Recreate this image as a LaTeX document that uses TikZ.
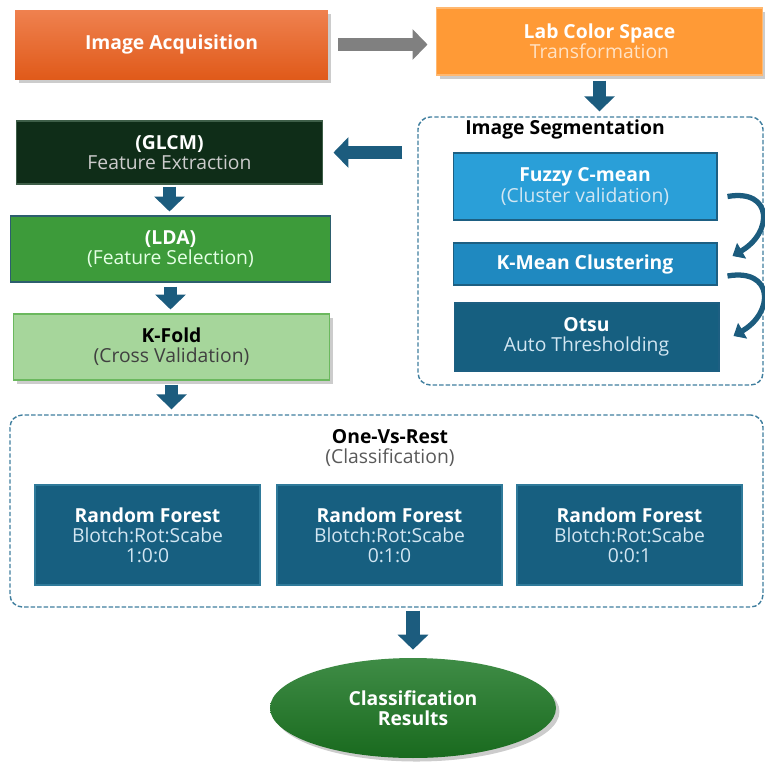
\documentclass[tikz,border=0pt]{standalone}
\usepackage{fontspec}
\setmainfont{Open Sans}
\usepackage{tikz}
\usetikzlibrary{arrows.meta,calc,fit,shapes.geometric,shadows}

\definecolor{acqtop}{HTML}{EF814F}
\definecolor{acqbot}{HTML}{E05A1A}
\definecolor{labfill}{HTML}{FF9A36}
\definecolor{labline}{HTML}{FFB870}
\definecolor{labsub}{HTML}{FFE2C4}
\definecolor{grpline}{HTML}{3F7E9E}
\definecolor{fuzzyfill}{HTML}{2A9FD8}
\definecolor{kmeanfill}{HTML}{1F89C0}
\definecolor{otsufill}{HTML}{165F80}
\definecolor{blueline}{HTML}{1D5F82}
\definecolor{bluesub}{HTML}{D2E6F2}
\definecolor{glcmfill}{HTML}{0F2D18}
\definecolor{glcmline}{HTML}{3E5E48}
\definecolor{ldafill}{HTML}{3D9B3A}
\definecolor{ldaline}{HTML}{2D5E6E}
\definecolor{kfoldfill}{HTML}{A6D69B}
\definecolor{kfoldline}{HTML}{6BB85E}
\definecolor{rffill}{HTML}{175F80}
\definecolor{rfline}{HTML}{2F7A9A}
\definecolor{restop}{HTML}{3F8C46}
\definecolor{resbot}{HTML}{196A1E}
\definecolor{arrowblue}{HTML}{1C5C7E}
\definecolor{arrowgray}{HTML}{808080}

\begin{document}
\begin{tikzpicture}[x=0.02cm,y=-0.02cm,
  font=\fontsize{11}{11.5}\selectfont,
  box/.style={rectangle,inner sep=0pt,align=center,text=white,line width=0.6pt},
  shade/.style={drop shadow={shadow xshift=2pt,shadow yshift=-2pt,opacity=0.4}},
  group/.style={draw=grpline,rounded corners=7pt,line width=0.8pt,dash pattern=on 2.5pt off 1.2pt,inner sep=0pt},
  fat/.style={-{Triangle[width=17pt,length=8.5pt]},line width=7.5pt,draw=arrowblue},
  curv/.style={-{Triangle[width=10pt,length=6pt]},line width=3pt,draw=arrowblue,looseness=2},
]
\useasboundingbox (0,0) rectangle (765,762);

\node[box,shade,top color=acqtop,bottom color=acqbot,minimum width=6.26cm,minimum height=1.38cm] (acq) at (171.5,44.5) {\textbf{Image Acquisition}};
\node[box,shade,fill=labfill,draw=labline,minimum width=6.54cm,minimum height=1.34cm] (lab) at (599.5,41.5) {\textbf{Lab Color Space}\\ {\color{labsub}Transformation}};

\node[group,fit={(418,117)(763,385)}] (seg) {};
\node[font=\fontsize{11}{11.5}\selectfont\bfseries] (seglabel) at (565,129) {Image Segmentation};
\node[box,fill=fuzzyfill,draw=blueline,minimum width=5.28cm,minimum height=1.34cm] (fuzzy) at (585,186.5) {\textbf{Fuzzy C-mean}\\ {\color{bluesub}(Cluster validation)}};
\node[box,fill=kmeanfill,draw=blueline,minimum width=5.28cm,minimum height=0.84cm] (kmean) at (585,264) {\textbf{K-Mean Clustering}};
\node[box,fill=otsufill,draw=blueline,minimum width=5.3cm,minimum height=1.36cm] (otsu) at (586.5,337) {\textbf{Otsu}\\ {\color{bluesub}Auto Thresholding}};

\node[box,fill=glcmfill,draw=glcmline,minimum width=6.14cm,minimum height=1.26cm] (glcm) at (169.5,152.5) {\textbf{(GLCM)}\\ {\color{black!20}Feature Extraction}};
\node[box,fill=ldafill,draw=ldaline,minimum width=6.42cm,minimum height=1.32cm] (lda) at (170.5,249) {\textbf{(LDA)}\\ {\color{green!10}(Feature Selection)}};
\node[box,shade,fill=kfoldfill,draw=kfoldline,text=black,minimum width=6.34cm,minimum height=1.32cm] (kfold) at (171.5,347) {\textbf{K-Fold}\\ {\color{black!75}(Cross Validation)}};

\node[group,fit={(10,415)(763,607)}] (class) {};
\node[align=center] (ovr) at (390,448) {\textbf{One-Vs-Rest}\\ {\color{black!65}(Classification)}};
\node[box,fill=rffill,draw=rfline,minimum width=4.5cm,minimum height=2cm] (rf1) at (147.5,535) {\textbf{Random Forest}\\ {\color{bluesub}Blotch:Rot:Scabe}\\ {\color{bluesub}1:0:0}};
\node[box,fill=rffill,draw=rfline,minimum width=4.5cm,minimum height=2cm] (rf2) at (389.5,535) {\textbf{Random Forest}\\ {\color{bluesub}Blotch:Rot:Scabe}\\ {\color{bluesub}0:1:0}};
\node[box,fill=rffill,draw=rfline,minimum width=4.5cm,minimum height=2cm] (rf3) at (629.5,535) {\textbf{Random Forest}\\ {\color{bluesub}Blotch:Rot:Scabe}\\ {\color{bluesub}0:0:1}};

\node[ellipse,shade,top color=restop,bottom color=resbot,text=white,align=center,minimum width=5.72cm,minimum height=2cm,inner sep=0pt] (res) at (413,708) {\textbf{Classification}\\ \textbf{Results}};

\draw[fat,draw=arrowgray,shorten <=0.2cm,shorten >=0.16cm] (acq.east) -- (acq.east -| lab.west);
\draw[fat,shorten <=0.1cm,shorten >=0.1cm] (lab.south) -- (lab.south |- seg.north);
\draw[fat,shorten <=0.3cm,shorten >=0.2cm] (seg.west |- glcm.east) -- (glcm.east);
\draw[fat,shorten <=0.04cm,shorten >=0.08cm] (glcm.south) -- (glcm.south |- lda.north);
\draw[fat,shorten <=0.08cm,shorten >=0.08cm] (lda.south) -- (lda.south |- kfold.north);
\draw[fat,shorten <=0.08cm,shorten >=0.1cm] (kfold.south) -- (kfold.south |- class.north);
\draw[fat,shorten <=0.06cm,shorten >=0.16cm] (class.south -| res.north) -- (res.north);

\draw[curv] ($(fuzzy.east)+(10,10)$) to[out=10,in=30] ($(kmean.east)+(15,-8)$);
\draw[curv] ($(kmean.east)+(10,12)$) to[out=10,in=30] ($(otsu.east)+(14,-1)$);
\end{tikzpicture}
\end{document}
